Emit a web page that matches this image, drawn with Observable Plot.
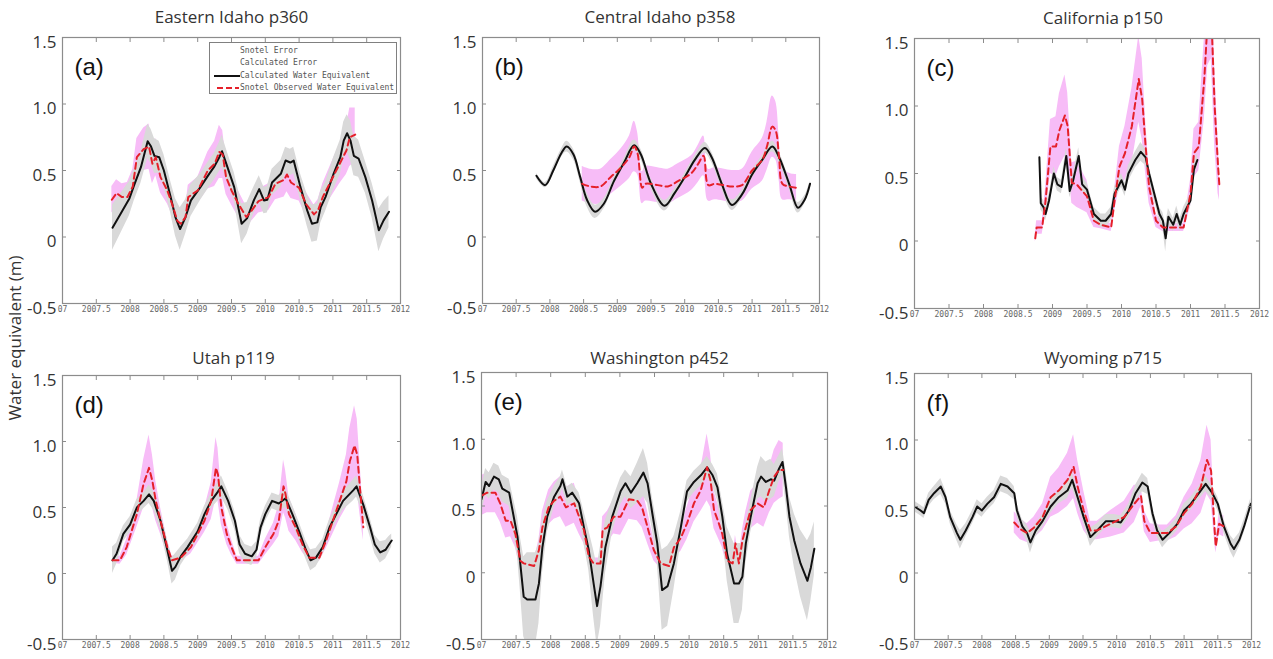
<!DOCTYPE html>
<html>
<head>
<meta charset="utf-8">
<script src="https://cdn.jsdelivr.net/npm/d3@7"></script>
<script src="https://cdn.jsdelivr.net/npm/@observablehq/plot@0.6"></script>
<style>
  html, body { margin: 0; padding: 0; background: #fff; }
  #wrap { position: relative; width: 1273px; height: 659px; overflow: hidden; font-family: "Open Sans", sans-serif; }
  #ytitle { position: absolute; left: 14px; top: 338px; transform: translate(-50%, -50%) rotate(-90deg); white-space: nowrap; font-size: 17px; color: #333; }
  #legend { position: absolute; left: 209px; top: 42px; width: 186px; height: 50px; border: 1.5px solid #808080; background: #fff; font-family: "DejaVu Sans Mono", monospace; font-size: 8px; color: #555; }
  #legend .row { position: absolute; left: 0; height: 12px; line-height: 12px; width: 186px; }
  #legend .row span { position: absolute; left: 30px; top: 0; white-space: nowrap; }
  #legend .row svg { position: absolute; left: 0; top: 0; }
</style>
</head>
<body>
<div id="wrap"></div>
<script>
// ---------- text / ticks ----------
const xTicks = [2007, 2007.5, 2008, 2008.5, 2009, 2009.5, 2010, 2010.5, 2011, 2011.5, 2012];
const xTickLabels = ["07", "2007.5", "2008", "2008.5", "2009", "2009.5", "2010", "2010.5", "2011", "2011.5", "2012"];
const yTicks = [-0.5, 0, 0.5, 1.0, 1.5];
const yTickLabels = ["-0.5", "0", "0.5", "1.0", "1.5"];
const panelTitles = ["Eastern Idaho p360", "Central Idaho p358", "California p150", "Utah p119", "Washington p452", "Wyoming p715"];
const panelTags = ["(a)", "(b)", "(c)", "(d)", "(e)", "(f)"];
const legendLabels = ["Snotel Error", "Calculated Error", "Calculated Water Equivalent", "Snotel Observed Water Equivalent"];
const yAxisTitle = "Water equivalent (m)";

// ---------- data: [year, value (m), error half-width (m)] ----------
const eIdahoCalc = [[2007.74,0.07,0.17],[2007.86,0.175,0.15],[2007.99,0.29,0.13],[2008.06,0.39,0.12],[2008.16,0.525,0.12],[2008.26,0.72,0.13],[2008.31,0.68,0.13],[2008.36,0.61,0.13],[2008.43,0.6,0.12],[2008.50,0.5,0.12],[2008.60,0.3,0.12],[2008.67,0.15,0.14],[2008.74,0.06,0.16],[2008.82,0.15,0.13],[2008.90,0.275,0.12],[2009.04,0.375,0.1],[2009.17,0.475,0.1],[2009.24,0.525,0.1],[2009.32,0.6,0.11],[2009.36,0.645,0.12],[2009.44,0.525,0.11],[2009.54,0.375,0.11],[2009.65,0.1,0.15],[2009.73,0.14,0.12],[2009.83,0.275,0.1],[2009.91,0.36,0.1],[2009.98,0.275,0.1],[2010.03,0.28,0.1],[2010.10,0.41,0.1],[2010.23,0.475,0.1],[2010.30,0.575,0.1],[2010.37,0.56,0.1],[2010.42,0.575,0.1],[2010.52,0.375,0.1],[2010.62,0.2,0.12],[2010.69,0.1,0.14],[2010.77,0.11,0.14],[2010.82,0.225,0.12],[2010.89,0.3,0.11],[2011.01,0.475,0.12],[2011.11,0.6,0.13],[2011.16,0.725,0.14],[2011.21,0.78,0.14],[2011.26,0.725,0.15],[2011.31,0.61,0.15],[2011.38,0.59,0.14],[2011.48,0.45,0.12],[2011.58,0.275,0.13],[2011.68,0.05,0.16],[2011.75,0.125,0.14],[2011.83,0.19,0.12]];
const eIdahoObs = [[2007.73,0.28,0.1],[2007.80,0.33,0.1],[2007.88,0.3,0.1],[2007.96,0.3,0.11],[2008.04,0.38,0.13],[2008.10,0.6,0.14],[2008.20,0.66,0.16],[2008.28,0.68,0.17],[2008.33,0.55,0.15],[2008.38,0.6,0.14],[2008.45,0.45,0.12],[2008.55,0.35,0.1],[2008.62,0.25,0.08],[2008.70,0.12,0.06],[2008.75,0.1,0.06],[2008.82,0.15,0.07],[2008.86,0.3,0.09],[2009.00,0.35,0.1],[2009.15,0.5,0.14],[2009.25,0.55,0.17],[2009.32,0.64,0.2],[2009.37,0.62,0.18],[2009.42,0.45,0.13],[2009.50,0.35,0.11],[2009.60,0.25,0.1],[2009.72,0.15,0.08],[2009.80,0.2,0.08],[2009.90,0.27,0.09],[2010.05,0.3,0.1],[2010.15,0.4,0.12],[2010.28,0.43,0.13],[2010.32,0.47,0.13],[2010.38,0.41,0.12],[2010.50,0.37,0.1],[2010.60,0.25,0.09],[2010.72,0.17,0.07],[2010.78,0.2,0.08],[2010.85,0.3,0.1],[2010.95,0.4,0.12],[2011.10,0.55,0.15],[2011.20,0.65,0.18],[2011.25,0.75,0.22],[2011.33,0.77,0.2]];

const cIdahoCalc = [[2007.80,0.46,0.02],[2007.93,0.39,0.02],[2008.05,0.5,0.03],[2008.17,0.63,0.03],[2008.25,0.68,0.04],[2008.35,0.62,0.04],[2008.45,0.45,0.04],[2008.55,0.28,0.05],[2008.67,0.19,0.05],[2008.80,0.25,0.04],[2008.95,0.42,0.03],[2009.10,0.56,0.03],[2009.25,0.69,0.04],[2009.35,0.62,0.04],[2009.50,0.4,0.04],[2009.70,0.235,0.04],[2009.85,0.33,0.03],[2010.00,0.45,0.03],[2010.15,0.58,0.03],[2010.30,0.67,0.04],[2010.40,0.6,0.04],[2010.55,0.4,0.04],[2010.70,0.24,0.04],[2010.85,0.32,0.03],[2011.00,0.47,0.03],[2011.15,0.58,0.03],[2011.30,0.68,0.04],[2011.40,0.6,0.04],[2011.55,0.4,0.04],[2011.68,0.22,0.04],[2011.78,0.28,0.03],[2011.86,0.4,0.02]];
const cIdahoObs = [[2008.48,0.4,0.13],[2008.60,0.38,0.13],[2008.75,0.38,0.13],[2008.90,0.45,0.13],[2009.05,0.52,0.14],[2009.18,0.6,0.16],[2009.25,0.68,0.19],[2009.30,0.63,0.16],[2009.37,0.37,0.12],[2009.42,0.4,0.13],[2009.60,0.39,0.13],[2009.75,0.38,0.13],[2009.90,0.42,0.13],[2010.10,0.48,0.13],[2010.20,0.55,0.14],[2010.28,0.61,0.15],[2010.35,0.39,0.12],[2010.45,0.4,0.12],[2010.70,0.38,0.12],[2010.85,0.39,0.12],[2011.00,0.5,0.14],[2011.15,0.58,0.16],[2011.22,0.68,0.18],[2011.30,0.83,0.23],[2011.35,0.8,0.22],[2011.40,0.6,0.17],[2011.45,0.4,0.12],[2011.55,0.38,0.1],[2011.66,0.37,0.1]];

const califCalc = [[2008.81,0.62,0.05],[2008.83,0.28,0.05],[2008.87,0.25,0.05],[2008.90,0.2,0.05],[2008.95,0.3,0.05],[2009.02,0.5,0.05],[2009.07,0.42,0.05],[2009.13,0.4,0.05],[2009.20,0.63,0.06],[2009.25,0.37,0.05],[2009.30,0.45,0.05],[2009.38,0.63,0.06],[2009.43,0.42,0.05],[2009.50,0.38,0.05],[2009.60,0.2,0.05],[2009.70,0.15,0.05],[2009.77,0.15,0.05],[2009.85,0.2,0.05],[2009.90,0.35,0.05],[2010.00,0.45,0.05],[2010.05,0.38,0.05],[2010.10,0.5,0.06],[2010.20,0.6,0.06],[2010.28,0.66,0.07],[2010.35,0.62,0.06],[2010.40,0.5,0.05],[2010.50,0.3,0.05],[2010.55,0.2,0.05],[2010.60,0.15,0.06],[2010.64,0.02,0.1],[2010.68,0.18,0.06],[2010.75,0.12,0.05],[2010.80,0.2,0.06],[2010.85,0.12,0.05],[2010.90,0.2,0.05],[2011.00,0.3,0.05],[2011.05,0.53,0.05],[2011.10,0.6,0.05]];
const califObs = [[2008.75,0.02,0.03],[2008.77,0.1,0.05],[2008.85,0.1,0.05],[2008.90,0.3,0.1],[2008.97,0.7,0.2],[2009.05,0.7,0.22],[2009.10,0.82,0.27],[2009.18,0.93,0.3],[2009.22,0.85,0.25],[2009.28,0.43,0.15],[2009.35,0.42,0.17],[2009.50,0.33,0.12],[2009.60,0.15,0.05],[2009.70,0.12,0.03],[2009.85,0.1,0.03],[2009.90,0.3,0.08],[2009.97,0.55,0.15],[2010.05,0.65,0.2],[2010.15,0.85,0.28],[2010.25,1.2,0.32],[2010.30,1.05,0.3],[2010.35,0.7,0.2],[2010.40,0.4,0.12],[2010.50,0.15,0.05],[2010.60,0.1,0.03],[2010.90,0.1,0.03],[2011.00,0.35,0.1],[2011.05,0.65,0.18],[2011.12,0.7,0.18],[2011.20,1.2,0.3],[2011.25,1.65,0.35],[2011.30,1.7,0.35],[2011.35,1.0,0.3],[2011.40,0.55,0.2],[2011.42,0.4,0.1]];

const utahCalc = [[2007.74,0.1,0.1],[2007.80,0.15,0.08],[2007.90,0.3,0.06],[2008.00,0.37,0.06],[2008.10,0.5,0.06],[2008.20,0.55,0.06],[2008.28,0.6,0.07],[2008.35,0.55,0.07],[2008.45,0.4,0.07],[2008.55,0.18,0.08],[2008.62,0.02,0.1],[2008.67,0.05,0.1],[2008.75,0.13,0.07],[2008.85,0.2,0.06],[2009.00,0.32,0.06],[2009.10,0.45,0.06],[2009.20,0.55,0.06],[2009.30,0.62,0.07],[2009.35,0.66,0.08],[2009.45,0.55,0.07],[2009.55,0.4,0.07],[2009.62,0.22,0.07],[2009.70,0.15,0.07],[2009.80,0.13,0.07],[2009.87,0.18,0.06],[2009.93,0.35,0.06],[2010.00,0.45,0.06],[2010.10,0.55,0.06],[2010.20,0.53,0.06],[2010.30,0.57,0.07],[2010.40,0.45,0.07],[2010.50,0.32,0.07],[2010.60,0.18,0.07],[2010.67,0.1,0.08],[2010.75,0.12,0.07],[2010.85,0.2,0.06],[2010.95,0.35,0.06],[2011.05,0.45,0.06],[2011.15,0.55,0.07],[2011.30,0.63,0.08],[2011.35,0.66,0.08],[2011.45,0.52,0.07],[2011.55,0.35,0.07],[2011.62,0.22,0.07],[2011.70,0.16,0.08],[2011.78,0.18,0.07],[2011.83,0.22,0.06],[2011.87,0.25,0.05]];
const utahObs = [[2007.74,0.1,0.02],[2007.85,0.1,0.03],[2007.95,0.2,0.06],[2008.10,0.45,0.1],[2008.20,0.68,0.18],[2008.28,0.8,0.25],[2008.33,0.7,0.2],[2008.38,0.55,0.15],[2008.45,0.4,0.1],[2008.55,0.2,0.06],[2008.62,0.1,0.03],[2008.75,0.12,0.03],[2008.90,0.2,0.05],[2009.10,0.4,0.09],[2009.20,0.55,0.14],[2009.27,0.8,0.23],[2009.30,0.75,0.2],[2009.35,0.5,0.13],[2009.43,0.3,0.08],[2009.50,0.2,0.06],[2009.58,0.1,0.03],[2009.90,0.1,0.03],[2010.00,0.2,0.06],[2010.12,0.3,0.08],[2010.20,0.4,0.12],[2010.27,0.66,0.2],[2010.30,0.6,0.18],[2010.35,0.45,0.13],[2010.45,0.35,0.1],[2010.55,0.22,0.06],[2010.65,0.12,0.03],[2010.80,0.12,0.03],[2010.90,0.25,0.06],[2011.00,0.4,0.1],[2011.10,0.55,0.14],[2011.20,0.7,0.2],[2011.25,0.85,0.25],[2011.32,0.97,0.3],[2011.36,0.9,0.27],[2011.40,0.65,0.2],[2011.45,0.35,0.1]];

const washCalc = [[2007.00,0.55,0.1],[2007.06,0.68,0.1],[2007.11,0.65,0.1],[2007.18,0.72,0.1],[2007.25,0.7,0.1],[2007.30,0.63,0.1],[2007.40,0.6,0.1],[2007.52,0.27,0.15],[2007.56,0.07,0.2],[2007.61,-0.18,0.3],[2007.66,-0.2,0.35],[2007.78,-0.2,0.35],[2007.83,-0.08,0.3],[2007.88,0.19,0.2],[2007.95,0.42,0.12],[2008.05,0.57,0.08],[2008.14,0.65,0.07],[2008.17,0.7,0.07],[2008.24,0.57,0.07],[2008.31,0.6,0.07],[2008.41,0.52,0.08],[2008.48,0.34,0.12],[2008.55,0.17,0.15],[2008.62,-0.08,0.25],[2008.67,-0.25,0.3],[2008.72,-0.1,0.3],[2008.79,0.19,0.2],[2008.89,0.42,0.12],[2009.01,0.61,0.1],[2009.08,0.67,0.1],[2009.16,0.6,0.12],[2009.25,0.67,0.15],[2009.34,0.75,0.18],[2009.40,0.67,0.15],[2009.47,0.44,0.12],[2009.54,0.22,0.15],[2009.61,-0.13,0.3],[2009.69,-0.1,0.3],[2009.78,0.07,0.2],[2009.88,0.34,0.12],[2009.97,0.61,0.08],[2010.07,0.68,0.08],[2010.17,0.73,0.08],[2010.26,0.79,0.08],[2010.34,0.73,0.08],[2010.41,0.64,0.1],[2010.48,0.42,0.12],[2010.55,0.14,0.2],[2010.65,-0.08,0.3],[2010.72,-0.08,0.3],[2010.77,-0.03,0.25],[2010.82,0.22,0.15],[2010.89,0.42,0.12],[2010.99,0.67,0.12],[2011.04,0.72,0.15],[2011.11,0.68,0.15],[2011.18,0.7,0.15],[2011.23,0.69,0.12],[2011.30,0.78,0.1],[2011.35,0.83,0.1],[2011.40,0.64,0.12],[2011.45,0.42,0.15],[2011.52,0.24,0.2],[2011.61,0.07,0.25],[2011.71,-0.06,0.3],[2011.76,0.04,0.25],[2011.81,0.18,0.2]];
const washObs = [[2007.01,0.58,0.15],[2007.08,0.6,0.15],[2007.20,0.6,0.15],[2007.27,0.52,0.14],[2007.35,0.39,0.13],[2007.42,0.39,0.12],[2007.49,0.29,0.1],[2007.56,0.09,0.06],[2007.61,0.07,0.04],[2007.76,0.05,0.04],[2007.83,0.17,0.08],[2007.88,0.34,0.12],[2007.97,0.49,0.13],[2008.05,0.54,0.14],[2008.14,0.57,0.15],[2008.22,0.49,0.15],[2008.34,0.52,0.15],[2008.41,0.42,0.13],[2008.48,0.32,0.1],[2008.55,0.12,0.06],[2008.62,0.07,0.04],[2008.72,0.07,0.04],[2008.75,0.32,0.1],[2008.82,0.34,0.12],[2008.91,0.42,0.13],[2009.01,0.42,0.14],[2009.13,0.55,0.15],[2009.25,0.54,0.15],[2009.32,0.49,0.15],[2009.40,0.34,0.12],[2009.49,0.17,0.08],[2009.59,0.07,0.04],[2009.71,0.05,0.04],[2009.78,0.19,0.08],[2009.88,0.26,0.1],[2009.97,0.37,0.12],[2010.07,0.52,0.14],[2010.17,0.62,0.16],[2010.26,0.79,0.25],[2010.31,0.69,0.2],[2010.36,0.47,0.14],[2010.43,0.37,0.12],[2010.48,0.29,0.1],[2010.55,0.09,0.05],[2010.63,0.07,0.04],[2010.67,0.22,0.06],[2010.72,0.07,0.04],[2010.77,0.24,0.08],[2010.82,0.34,0.12],[2010.89,0.47,0.14],[2010.99,0.52,0.15],[2011.08,0.49,0.15],[2011.16,0.62,0.17],[2011.23,0.72,0.2],[2011.30,0.77,0.22],[2011.36,0.77,0.2]];

const wyoCalc = [[2007.00,0.5,0.04],[2007.09,0.47,0.04],[2007.14,0.45,0.04],[2007.21,0.55,0.05],[2007.29,0.6,0.05],[2007.39,0.65,0.06],[2007.46,0.57,0.05],[2007.53,0.42,0.05],[2007.63,0.3,0.06],[2007.68,0.25,0.07],[2007.76,0.32,0.05],[2007.86,0.42,0.05],[2007.93,0.5,0.05],[2008.00,0.47,0.05],[2008.08,0.52,0.05],[2008.18,0.57,0.05],[2008.28,0.67,0.06],[2008.38,0.65,0.06],[2008.48,0.6,0.05],[2008.52,0.47,0.05],[2008.60,0.35,0.05],[2008.67,0.3,0.06],[2008.72,0.23,0.08],[2008.80,0.32,0.05],[2008.90,0.39,0.05],[2009.02,0.5,0.05],[2009.14,0.57,0.05],[2009.27,0.62,0.06],[2009.34,0.7,0.06],[2009.42,0.57,0.05],[2009.51,0.42,0.05],[2009.61,0.27,0.07],[2009.71,0.32,0.05],[2009.84,0.39,0.05],[2009.96,0.39,0.05],[2010.06,0.38,0.05],[2010.18,0.47,0.05],[2010.28,0.6,0.06],[2010.38,0.68,0.07],[2010.46,0.65,0.06],[2010.53,0.45,0.05],[2010.60,0.32,0.05],[2010.68,0.25,0.06],[2010.78,0.3,0.05],[2010.90,0.37,0.05],[2011.00,0.47,0.05],[2011.10,0.52,0.05],[2011.22,0.6,0.05],[2011.32,0.67,0.06],[2011.42,0.6,0.05],[2011.50,0.52,0.05],[2011.59,0.35,0.05],[2011.69,0.22,0.06],[2011.74,0.18,0.07],[2011.82,0.25,0.05],[2011.89,0.35,0.05],[2011.99,0.52,0.04]];
const wyoObs = [[2008.48,0.38,0.08],[2008.57,0.33,0.08],[2008.67,0.3,0.07],[2008.77,0.34,0.08],[2008.90,0.42,0.1],[2009.02,0.57,0.15],[2009.14,0.62,0.17],[2009.27,0.7,0.2],[2009.36,0.8,0.24],[2009.42,0.65,0.2],[2009.51,0.47,0.15],[2009.61,0.32,0.07],[2009.71,0.32,0.07],[2009.91,0.37,0.1],[2010.11,0.42,0.12],[2010.26,0.52,0.14],[2010.36,0.58,0.08],[2010.41,0.39,0.08],[2010.50,0.3,0.07],[2010.63,0.3,0.06],[2010.75,0.3,0.06],[2010.88,0.35,0.08],[2011.00,0.45,0.12],[2011.12,0.52,0.15],[2011.25,0.65,0.2],[2011.34,0.85,0.26],[2011.40,0.77,0.23],[2011.45,0.35,0.1],[2011.47,0.2,0.05],[2011.52,0.37,0.08],[2011.59,0.35,0.08]];

// ---------- layout (frame positions in page pixels) ----------
const calcSeries = [eIdahoCalc, cIdahoCalc, califCalc, utahCalc, washCalc, wyoCalc];
const obsSeries = [eIdahoObs, cIdahoObs, califObs, utahObs, washObs, wyoObs];
const layout = [
  {left: 62,  right: 400,  top: 37,  bottom: 303, titleDx: 0,  titleDy: -20, curve: "linear"},
  {left: 482, right: 819,  top: 37,  bottom: 303, titleDx: 9,  titleDy: -20, curve: "catmull-rom"},
  {left: 914, right: 1259, top: 38,  bottom: 308, titleDx: 16, titleDy: -20, curve: "linear"},
  {left: 62,  right: 400,  top: 375, bottom: 639, titleDx: 2,  titleDy: -17, curve: "linear"},
  {left: 481, right: 827,  top: 372, bottom: 639, titleDx: 5,  titleDy: -14, curve: "linear"},
  {left: 914, right: 1251, top: 373, bottom: 639, titleDx: 20, titleDy: -15, curve: "linear"}
];
const C = {pink: "#f7bcf7", gray: "#d9d9d9", black: "#111111", red: "#e5202a", frame: "#8c8c8c", text: "#333333"};

const wrap = document.getElementById("wrap");
const xLabel = new Map(xTicks.map((d, i) => [d, xTickLabels[i]]));
const yLabel = new Map(yTicks.map((d, i) => [d, yTickLabels[i]]));

layout.forEach((L, i) => {
  const mL = 60, mR = 16, mT = 40, mB = 20;
  const width = L.right - L.left + mL + mR;
  const height = L.bottom - L.top + mT + mB;
  const calc = calcSeries[i], obs = obsSeries[i];
  const svg = Plot.plot({
    width, height, marginLeft: mL, marginRight: mR, marginTop: mT, marginBottom: mB,
    x: {domain: [2007, 2012], axis: null},
    y: {domain: [-0.5, 1.5], axis: null},
    style: {overflow: "visible", background: "transparent", fontFamily: "Open Sans"},
    marks: [
      Plot.areaY(obs, {x: d => d[0], y1: d => d[1] - d[2], y2: d => d[1] + d[2], fill: C.pink, curve: L.curve, clip: true}),
      Plot.areaY(calc, {x: d => d[0], y1: d => d[1] - d[2], y2: d => d[1] + d[2], fill: C.gray, curve: L.curve, clip: true}),
      Plot.line(calc, {x: d => d[0], y: d => d[1], stroke: C.black, strokeWidth: 2, curve: L.curve, clip: true}),
      Plot.line(obs, {x: d => d[0], y: d => d[1], stroke: C.red, strokeWidth: 2, strokeDasharray: "6,4", curve: L.curve, clip: true}),
      Plot.frame({stroke: C.frame, strokeWidth: 1.2}),
      Plot.axisX(xTicks, {anchor: "bottom", tickSize: -4, tickFormat: () => "", color: C.frame, label: null}),
      Plot.axisX(xTicks, {anchor: "top", tickSize: -4, tickFormat: () => "", color: C.frame, label: null}),
      Plot.axisY(yTicks, {anchor: "left", tickSize: -4, tickFormat: () => "", color: C.frame, label: null}),
      Plot.axisY(yTicks, {anchor: "right", tickSize: -4, tickFormat: () => "", color: C.frame, label: null}),
      Plot.axisX(xTicks, {anchor: "bottom", tickSize: 0, tickPadding: 3, tickFormat: d => xLabel.get(d), fontSize: 8, fontFamily: "DejaVu Sans Mono", color: "#666", label: null}),
      Plot.text(yTicks, {y: d => d, text: d => yLabel.get(d), frameAnchor: "left", textAnchor: "end", lineAnchor: "middle", dx: -6, dy: 5, fontSize: 17, fill: C.text}),
      Plot.text([panelTitles[i]], {text: d => d, frameAnchor: "top", lineAnchor: "middle", dx: L.titleDx, dy: L.titleDy, fontSize: 17, fill: C.text}),
      Plot.text([panelTags[i]], {text: d => d, frameAnchor: "top-left", textAnchor: "start", lineAnchor: "middle", dx: 12, dy: 30, fontSize: 24, fontFamily: "Liberation Sans", fill: "#111"})
    ]
  });
  svg.style.position = "absolute";
  svg.style.left = (L.left - mL) + "px";
  svg.style.top = (L.top - mT) + "px";
  svg.style.maxWidth = "none";
  wrap.appendChild(svg);
});

// y-axis title
const yt = document.createElement("div");
yt.id = "ytitle";
yt.textContent = yAxisTitle;
wrap.appendChild(yt);

// legend in panel (a)
const lg = document.createElement("div");
lg.id = "legend";
const sampleStyles = [null, null, {stroke: C.black, dash: null, x1: 4, x2: 30}, {stroke: C.red, dash: "6,3", x1: 7, x2: 29}];
legendLabels.forEach((lab, k) => {
  const row = document.createElement("div");
  row.className = "row";
  row.style.top = (2 + k * 12.3) + "px";
  const s = sampleStyles[k];
  if (s) {
    const ns = "http://www.w3.org/2000/svg";
    const sv = document.createElementNS(ns, "svg");
    sv.setAttribute("width", 32); sv.setAttribute("height", 12);
    const ln = document.createElementNS(ns, "line");
    ln.setAttribute("x1", s.x1); ln.setAttribute("x2", s.x2);
    ln.setAttribute("y1", 6); ln.setAttribute("y2", 6);
    ln.setAttribute("stroke", s.stroke); ln.setAttribute("stroke-width", 2);
    if (s.dash) ln.setAttribute("stroke-dasharray", s.dash);
    sv.appendChild(ln);
    row.appendChild(sv);
  }
  const sp = document.createElement("span");
  sp.textContent = lab;
  row.appendChild(sp);
  lg.appendChild(row);
});
wrap.appendChild(lg);
</script>
</body>
</html>
